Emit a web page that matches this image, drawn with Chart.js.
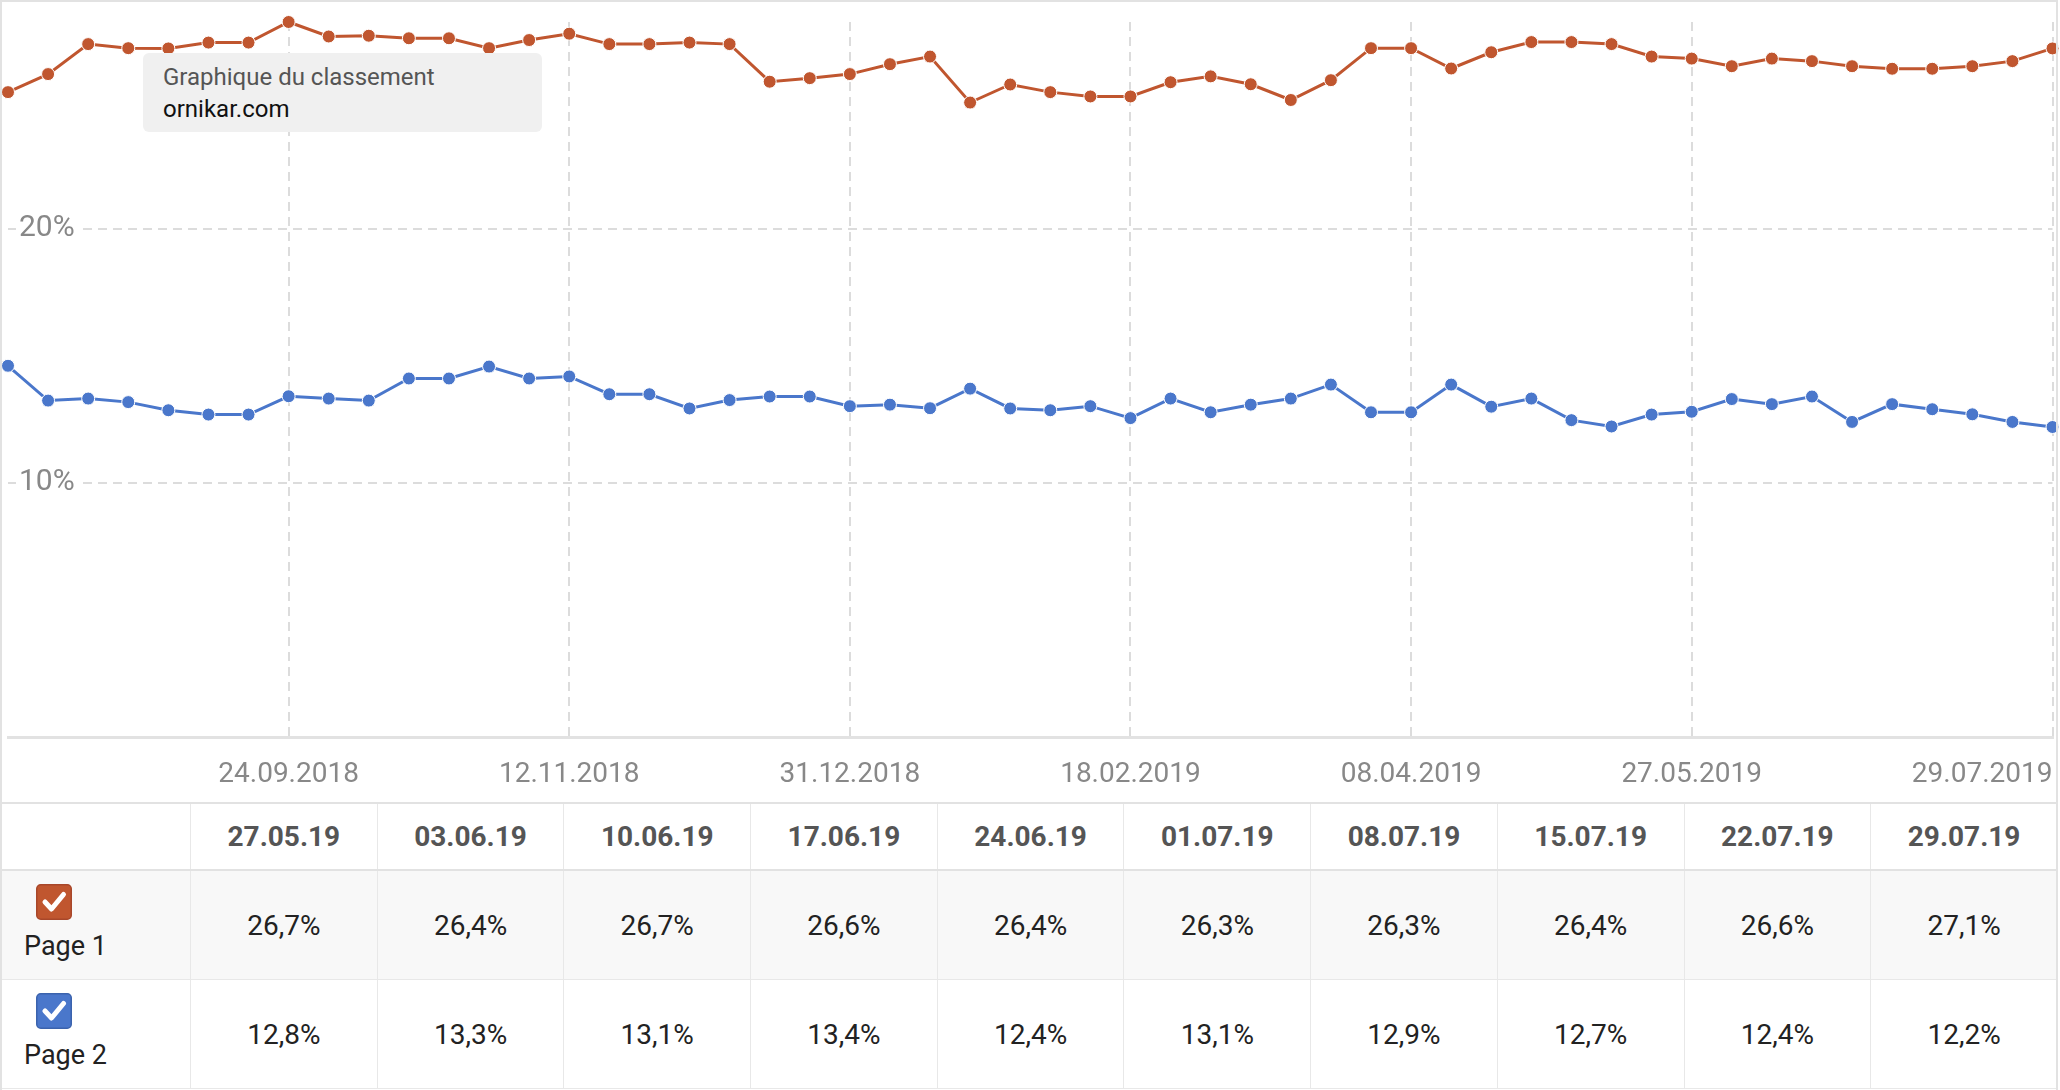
<!DOCTYPE html>
<html>
<head>
<meta charset="utf-8">
<title>Graphique du classement</title>
<script src="https://cdn.jsdelivr.net/npm/chart.js@4.4.1/dist/chart.umd.min.js"></script>
<style>
  body { margin: 0; background: #fff; font-family: Roboto, sans-serif; }
  #wrap { position: relative; width: 2060px; height: 1090px; overflow: hidden; }
  #chart { position: absolute; left: 0; top: 0; }
  #frame { position: absolute; left: 0; top: 0; width: 2058px; height: 1090px; box-sizing: border-box;
           border: 2px solid #e2e2e2; border-bottom: none; pointer-events: none; }
  .chart-title { position: absolute; left: 143px; top: 53px; width: 399px; height: 79px; box-sizing: border-box;
                 background: #f0f0f0; border-radius: 6px; padding: 8px 20px; font-size: 24px; line-height: 32px; }
  .chart-title .t { color: #555; }
  .chart-title .d { color: #111; }
  table { position: absolute; left: 0; top: 802px; width: 2058px; border-collapse: collapse; table-layout: fixed; }
  th, td { border: 1px solid #e8e8e8; text-align: center; font-size: 28px; padding: 0; }
  th { height: 65px; font-weight: bold; color: #555; border-top: 2px solid #e2e2e2; border-bottom: 2px solid #e2e2e2; }
  td { height: 108px; color: #222; }
  tr.p1 td { background: #f8f8f8; }
  td.name { position: relative; text-align: left; font-size: 27px; }
  td.name svg { position: absolute; left: 35px; top: 13px; }
  td.name span { position: absolute; left: 23px; top: 59px; line-height: 32px; color: #222; }
</style>
</head>
<body>
<div id="wrap">
  <canvas id="chart" width="2060" height="802"></canvas>
  <div class="chart-title"><div class="t">Graphique du classement</div><div class="d">ornikar.com</div></div>
  <table id="tbl"></table>
  <div id="frame"></div>
</div>
<script>
// weekly dates
const dates = [
  '06.08.2018', '13.08.2018', '20.08.2018', '27.08.2018', '03.09.2018', '10.09.2018', '17.09.2018',
  '24.09.2018', '01.10.2018', '08.10.2018', '15.10.2018', '22.10.2018', '29.10.2018', '05.11.2018',
  '12.11.2018', '19.11.2018', '26.11.2018', '03.12.2018', '10.12.2018', '17.12.2018', '24.12.2018',
  '31.12.2018', '07.01.2019', '14.01.2019', '21.01.2019', '28.01.2019', '04.02.2019', '11.02.2019',
  '18.02.2019', '25.02.2019', '04.03.2019', '11.03.2019', '18.03.2019', '25.03.2019', '01.04.2019',
  '08.04.2019', '15.04.2019', '22.04.2019', '29.04.2019', '06.05.2019', '13.05.2019', '20.05.2019',
  '27.05.2019', '03.06.2019', '10.06.2019', '17.06.2019', '24.06.2019', '01.07.2019', '08.07.2019',
  '15.07.2019', '22.07.2019', '29.07.2019'
];
const axisDates = ['24.09.2018', '12.11.2018', '31.12.2018', '18.02.2019', '08.04.2019', '27.05.2019', '29.07.2019'];
const yTicks = [10, 20];

// share of keywords (%)
const page1 = [
  25.38, 26.09, 27.27, 27.11, 27.1, 27.33, 27.33, 28.14, 27.57, 27.6, 27.5, 27.5, 27.11, 27.43,
  27.68, 27.27, 27.27, 27.33, 27.27, 25.79, 25.93, 26.09, 26.48, 26.78, 24.97, 25.68, 25.38, 25.21,
  25.21, 25.77, 26.0, 25.69, 25.07, 25.85, 27.11, 27.11, 26.31, 26.95, 27.35, 27.35, 27.27, 26.78,
  26.7, 26.4, 26.7, 26.6, 26.4, 26.3, 26.3, 26.4, 26.6, 27.1
];
const page2 = [
  14.61, 13.24, 13.32, 13.18, 12.86, 12.69, 12.69, 13.41, 13.32, 13.24, 14.11, 14.11, 14.58, 14.11,
  14.19, 13.49, 13.49, 12.93, 13.26, 13.4, 13.4, 13.02, 13.08, 12.94, 13.71, 12.93, 12.86, 13.02,
  12.55, 13.32, 12.78, 13.08, 13.32, 13.87, 12.78, 12.78, 13.87, 13.0, 13.32, 12.47, 12.22, 12.69,
  12.8, 13.3, 13.1, 13.4, 12.4, 13.1, 12.9, 12.7, 12.4, 12.2
];

const orange = '#c0562f';
const blue = '#4a77cb';
const tableWeeks = 10;

// x labels drawn by hand so the last one can hug the right edge
const axisLabels = {
    id: 'axisLabels',
    afterDraw(chart) {
        const {ctx, chartArea, scales: {x}} = chart;
        ctx.save();
        ctx.font = '28px Roboto';
        ctx.fillStyle = '#888';
        ctx.textBaseline = 'middle';
        axisDates.forEach(d => {
            const px = x.getPixelForValue(dates.indexOf(d));
            const w = ctx.measureText(d).width;
            let left = px - w / 2;
            if (left + w > chartArea.right) left = chartArea.right - w;
            ctx.fillText(d, left, 775);
        });
        ctx.restore();
    }
};

function series(label, data, color) {
    return {
        label: label,
        data: data,
        borderColor: color,
        backgroundColor: color,
        borderWidth: 3,
        pointRadius: 6.5,
        pointBorderColor: '#fff',
        pointBorderWidth: 1,
        tension: 0,
        clip: false
    };
}

new Chart(document.getElementById('chart'), {
    type: 'line',
    data: {
        labels: dates,
        datasets: [series('Page 1', page1, orange), series('Page 2', page2, blue)]
    },
    options: {
        responsive: false,
        animation: false,
        events: [],
        layout: { padding: { left: 8, right: 7, top: 22, bottom: 65 } },
        plugins: { legend: { display: false }, tooltip: { enabled: false } },
        scales: {
            x: {
                ticks: { display: false, autoSkip: false },
                afterBuildTicks: axis => { axis.ticks = axisDates.map(d => ({ value: dates.indexOf(d) })); },
                grid: { color: '#dcdcdc', lineWidth: 2, drawTicks: false },
                border: { display: true, color: '#e2e2e2', width: 3, dash: [9, 6] }
            },
            y: {
                min: 0,
                max: Math.max(...page1),
                afterBuildTicks: axis => { axis.ticks = yTicks.map(v => ({ value: v })); },
                afterFit: axis => { axis.width = 0; axis.paddingTop = 0; axis.paddingBottom = 0; },
                ticks: {
                    mirror: true,
                    padding: 11,
                    color: '#888',
                    font: { family: 'Roboto', size: 30 },
                    showLabelBackdrop: true,
                    backdropColor: '#fff',
                    backdropPadding: { x: 3, y: 0 },
                    callback: v => v + '%'
                },
                grid: { color: '#dcdcdc', lineWidth: 2, drawTicks: false },
                border: { display: false, dash: [9, 6] }
            }
        }
    },
    plugins: [axisLabels]
});

// table with the last weeks
function checkbox(fill, stroke) {
    return '<svg width="36" height="36" viewBox="0 0 36 36">' +
        '<rect x="0.75" y="0.75" width="34.5" height="34.5" rx="4" fill="' + fill + '" stroke="' + stroke + '" stroke-width="1.5"/>' +
        '<path d="M9 18 L15.5 25 L27.5 10.5" fill="none" stroke="#fff" stroke-width="5" stroke-linecap="round" stroke-linejoin="round"/></svg>';
}
const fmt = v => v.toFixed(1).replace('.', ',') + '%';
const last = dates.slice(-tableWeeks);
let html = '<colgroup><col style="width:190px">' + last.map(() => '<col>').join('') + '</colgroup>';
html += '<tr><th style="border-left:none"></th>' + last.map(d => '<th>' + d.slice(0, 6) + d.slice(8) + '</th>').join('') + '</tr>';
html += '<tr class="p1"><td class="name">' + checkbox(orange, '#a8472a') + '<span>Page 1</span></td>' +
    page1.slice(-tableWeeks).map(v => '<td>' + fmt(v) + '</td>').join('') + '</tr>';
html += '<tr><td class="name">' + checkbox(blue, '#3b63ad') + '<span>Page 2</span></td>' +
    page2.slice(-tableWeeks).map(v => '<td>' + fmt(v) + '</td>').join('') + '</tr>';
document.getElementById('tbl').innerHTML = html;
</script>
</body>
</html>
